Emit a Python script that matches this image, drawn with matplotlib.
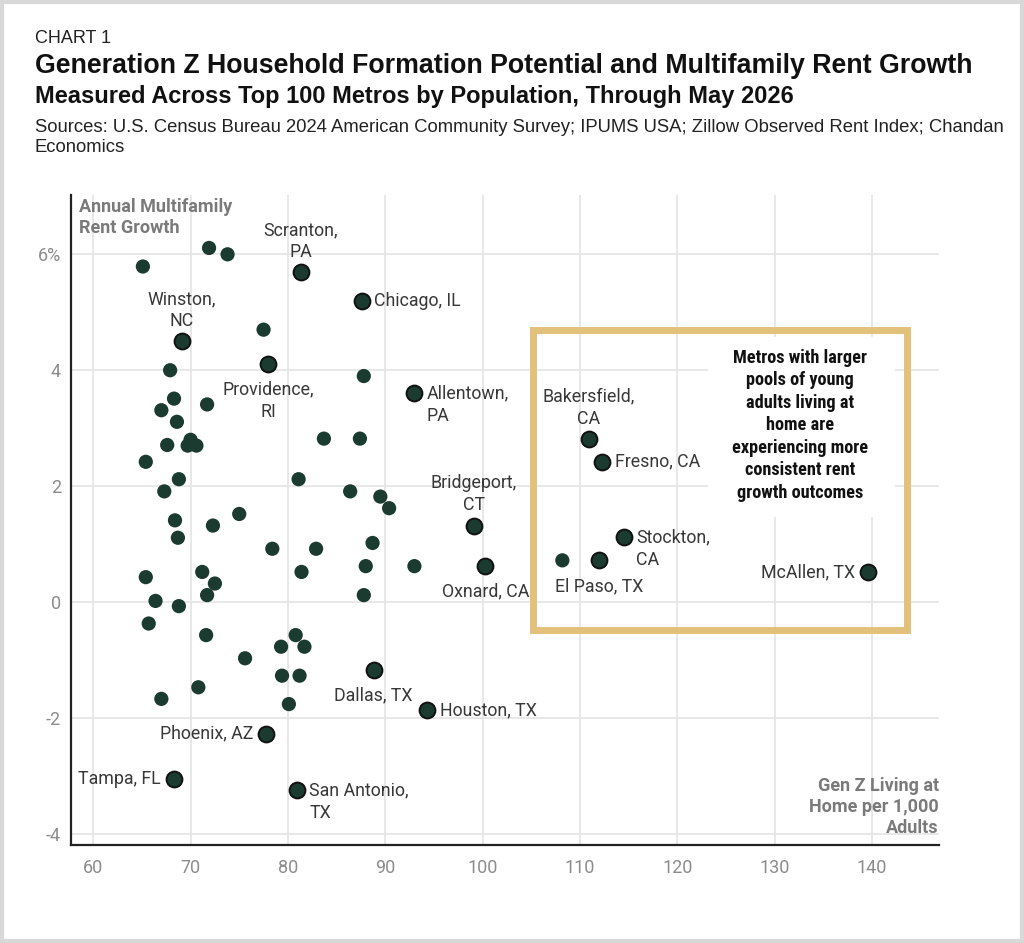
import matplotlib
matplotlib.use("Agg")
import matplotlib.pyplot as plt
from matplotlib import font_manager
from matplotlib.font_manager import FontProperties
from matplotlib.patches import Rectangle
from matplotlib.transforms import offset_copy

# ---------------- data ----------------
other_x = [71.9, 73.8, 65.1, 77.5, 67.9, 87.8, 68.3, 71.7, 67.0, 68.6,
           83.7, 87.4, 67.6, 70.0, 69.7, 70.6, 65.4, 68.8, 67.3, 81.1,
           86.4, 89.5, 90.4, 75.0, 68.4, 72.3, 68.7, 78.4, 82.9, 88.7,
           88.0, 93.0, 71.2, 81.4, 72.5, 71.7, 87.8, 65.4, 66.4, 68.8,
           65.7, 71.6, 80.8, 79.3, 81.7, 75.6, 79.4, 81.2, 70.8, 67.0,
           80.1, 108.2]
other_y = [6.11, 6.00, 5.79, 4.70, 4.00, 3.90, 3.51, 3.41, 3.31, 3.11,
           2.82, 2.82, 2.71, 2.80, 2.70, 2.70, 2.42, 2.12, 1.91, 2.12,
           1.91, 1.82, 1.62, 1.52, 1.41, 1.32, 1.11, 0.92, 0.92, 1.02,
           0.62, 0.62, 0.52, 0.52, 0.32, 0.12, 0.12, 0.43, 0.02, -0.07,
           -0.37, -0.57, -0.57, -0.77, -0.77, -0.97, -1.27, -1.27, -1.47, -1.67,
           -1.76, 0.72]

metro_names = ["Scranton,\nPA", "Chicago, IL", "Winston,\nNC", "Providence,\nRI",
               "Allentown,\nPA", "Bakersfield,\nCA", "Fresno, CA", "Bridgeport,\nCT",
               "Stockton,\nCA", "El Paso, TX", "Oxnard, CA", "McAllen, TX",
               "Dallas, TX", "Houston, TX", "Phoenix, AZ", "Tampa, FL",
               "San Antonio,\nTX"]
metro_x = [81.3, 87.6, 69.1, 78.0, 93.0, 110.9, 112.3, 99.1, 114.5, 112.0,
           100.3, 139.6, 88.8, 94.3, 77.8, 68.3, 80.9]
metro_y = [5.69, 5.19, 4.50, 4.11, 3.60, 2.82, 2.42, 1.32, 1.12, 0.72,
           0.62, 0.52, -1.17, -1.87, -2.27, -3.06, -3.25]
label_side = ["above", "right", "above", "below", "right", "above", "right", "above",
              "right", "below", "below", "left", "below", "right", "left", "left",
              "right"]

x_ticks = [60, 70, 80, 90, 100, 110, 120, 130, 140]
y_ticks = [-4, -2, 0, 2, 4, 6]
y_tick_labels = ["-4", "-2", "0", "2", "4", "6%"]

title0 = "CHART 1"
title1 = "Generation Z Household Formation Potential and Multifamily Rent Growth"
title2 = "Measured Across Top 100 Metros by Population, Through May 2026"
sources1 = "Sources: U.S. Census Bureau 2024 American Community Survey; IPUMS USA; Zillow Observed Rent Index; Chandan"
sources2 = "Economics"
box_lines = ["Metros with larger", "pools of young", "adults living at", "home are",
             "experiencing more", "consistent rent", "growth outcomes"]
y_label = "Annual Multifamily\nRent Growth"
x_label = "Gen Z Living at\nHome per 1,000\nAdults"

# ---------------- fonts ----------------
fl = font_manager.fontManager.ttflist
head_font = ["Liberation Sans", "DejaVu Sans"]
body_font = ["Roboto", "DejaVu Sans"]


def _is_bold(f):
    w = f.weight
    if isinstance(w, str):
        return w in ("bold", "heavy", "black", "extra bold", "demibold", "semibold")
    return w >= 600


def _find_condensed_bold():
    prefs = ["roboto", "liberation", "open", "noto", "dejavu", ""]
    cands = []
    for f in fl:
        key = (f.name + " " + f.fname + " " + str(f.stretch)).lower()
        if ("condensed" in key or "narrow" in key) and _is_bold(f) and f.style == "normal":
            cands.append(f)
    for p in prefs:
        for f in cands:
            if p in (f.name + f.fname).lower():
                return f.fname
    return None


cond_path = _find_condensed_bold()

plt.rcParams["font.family"] = body_font

GREEN = "#1c3b30"
GRID = "#e6e6e6"
TICK = "#8c8c8c"
AXLAB = "#7a7a7a"
LAB = "#383838"
GOLD = "#e3c07c"

fig = plt.figure(figsize=(10.24, 9.43), dpi=100)
fig.patch.set_facecolor("white")
fig.add_artist(Rectangle((0.002, 0.002), 0.996, 0.996, transform=fig.transFigure,
                         fill=False, edgecolor="#d8d8d8", linewidth=3))

ax = fig.add_axes([0.069, 0.104, 0.848, 0.689])
ax.set_xlim(57.68, 146.9)
ax.set_ylim(-4.19, 7.02)

ax.set_xticks(x_ticks)
ax.set_xticklabels([str(v) for v in x_ticks])
ax.set_yticks(y_ticks)
ax.set_yticklabels(y_tick_labels)
ax.tick_params(axis="both", length=0, labelsize=13, labelcolor=TICK)
ax.tick_params(axis="x", pad=10)
ax.tick_params(axis="y", pad=7)
ax.grid(True, color=GRID, linewidth=1.3, zorder=0)
ax.set_axisbelow(True)
for s in ["top", "right"]:
    ax.spines[s].set_visible(False)
for s in ["left", "bottom"]:
    ax.spines[s].set_color("#222222")
    ax.spines[s].set_linewidth(1.6)

# highlight box
ax.add_patch(Rectangle((105.2, -0.48), 143.6 - 105.2, 4.69 + 0.48, fill=False,
                       edgecolor=GOLD, linewidth=5, zorder=1.5))
ax.add_patch(Rectangle((123.2, 1.47), 142.4 - 123.2, 4.57 - 1.47, facecolor="white",
                       edgecolor="none", zorder=1.2))

# box text font
renderer = fig.canvas.get_renderer()
if cond_path is not None:
    fp = FontProperties(fname=cond_path, size=12)
    probe = fig.text(0, 0, "experiencing more", fontproperties=fp)
    w = probe.get_window_extent(renderer).width
    probe.remove()
    box_fp = FontProperties(fname=cond_path, size=min(12 * 136.0 / w, 14))
else:
    box_fp = FontProperties(family=["Liberation Sans", "DejaVu Sans"], weight="bold", size=12)

line_px = 22.5
n = len(box_lines)
for i, line in enumerate(box_lines):
    dy_pt = ((n - 1) / 2 - i) * line_px * 72 / 100
    tr = offset_copy(ax.transData, fig=fig, x=0, y=dy_pt, units="points")
    ax.text(132.6, 3.05, line, transform=tr, ha="center", va="center",
            fontproperties=box_fp, color="#111111", zorder=2)

ax.scatter(other_x, other_y, s=105, color=GREEN, edgecolors="none", zorder=3)
ax.scatter(metro_x, metro_y, s=130, color=GREEN, edgecolors="#111111",
           linewidths=1.4, zorder=3)

offsets = {"above": ((0, 8), "center", "bottom"),
           "below": ((0, -12), "center", "top"),
           "right": ((9, 0), "left", "center"),
           "left": ((-9.5, 0), "right", "center")}
for name, x, y, side in zip(metro_names, metro_x, metro_y, label_side):
    off, ha, va = offsets[side]
    if side == "right" and "\n" in name:
        off, va = (9, 6.3), "top"
    ax.annotate(name, (x, y), xytext=off, textcoords="offset points", ha=ha, va=va,
                fontsize=12.8, color=LAB, linespacing=1.3, zorder=4)

ax.text(0.0099, 0.996, y_label, transform=ax.transAxes, ha="left", va="top",
        fontsize=13, fontweight="bold", color=AXLAB, linespacing=1.22, zorder=2)
ax.text(1.0, 0.012, x_label, transform=ax.transAxes, ha="right", va="bottom",
        fontsize=13, fontweight="bold", color=AXLAB, linespacing=1.22, zorder=2)

# titles
X0 = 35 / 1024
fig.text(X0, 1 - 43.3 / 943, title0, ha="left", va="baseline", fontsize=13,
         family=head_font, color="#222222")
fig.text(X0, 1 - 73.3 / 943, title1, ha="left", va="baseline", fontsize=19.3,
         fontweight="bold", family=head_font, color="#111111")
fig.text(X0, 1 - 103.3 / 943, title2, ha="left", va="baseline", fontsize=17,
         fontweight="bold", family=head_font, color="#111111")
fig.text(X0, 1 - 131.7 / 943, sources1, ha="left", va="baseline", fontsize=13.3,
         family=head_font, color="#222222")
fig.text(X0, 1 - 151.5 / 943, sources2, ha="left", va="baseline", fontsize=13.3,
         family=head_font, color="#222222")

fig.savefig("out.png", dpi=100, facecolor="white")
